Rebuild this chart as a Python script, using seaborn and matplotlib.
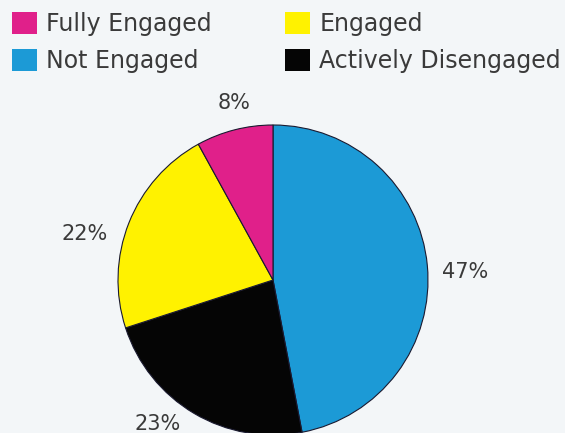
import matplotlib
matplotlib.use("Agg")
import numpy as np
import matplotlib.pyplot as plt
from matplotlib.patches import Patch
import seaborn as sns

categories = ["Not Engaged", "Actively Disengaged", "Engaged", "Fully Engaged"]
shares = [47, 23, 22, 8]
colors = ["#1c9ad6", "#050505", "#fff200", "#e0208a"]
legend_columns = [["Fully Engaged", "Not Engaged"], ["Engaged", "Actively Disengaged"]]

# label placement around the pie: radius factor and angular nudge (degrees)
label_radius = [1.24, 1.19, 1.25, 1.17]
label_nudge = [-3, -8, 8, -2]

sns.set_style("white")
plt.rcParams["font.family"] = ["DejaVu Sans"]
bg = "#f3f6f8"
text_color = "#3a3a3a"

W, H = 565, 433
fig = plt.figure(figsize=(W / 100, H / 100), dpi=100, facecolor=bg)
ax = fig.add_axes([0, 0, 1, 1])
ax.set_facecolor(bg)

center = (273, H - 280)
radius = 155
wedges, _ = ax.pie(
    shares,
    colors=colors,
    startangle=90,
    counterclock=False,
    center=center,
    radius=radius,
    frame=True,
    wedgeprops=dict(edgecolor="#1a1a30", linewidth=0.8),
)
ax.set_xlim(0, W)
ax.set_ylim(0, H)
ax.set_aspect("equal")
ax.axis("off")

for w, v, rf, dn in zip(wedges, shares, label_radius, label_nudge):
    ang = np.deg2rad((w.theta1 + w.theta2) / 2 + dn)
    x = center[0] + rf * radius * np.cos(ang)
    y = center[1] + rf * radius * np.sin(ang)
    ax.text(x, y, f"{v}%", ha="center", va="center", fontsize=15, color=text_color)

color_of = dict(zip(categories, colors))
anchors = [(12 / W, 1 - 12 / H), (285 / W, 1 - 12 / H)]
for col, anchor in zip(legend_columns, anchors):
    handles = [Patch(facecolor=color_of[c], edgecolor="none", label=c) for c in col]
    leg = fig.legend(
        handles=handles,
        loc="upper left",
        bbox_to_anchor=anchor,
        frameon=False,
        fontsize=17,
        borderpad=0,
        borderaxespad=0,
        handlelength=1.05,
        handleheight=1.05,
        handletextpad=0.4,
        labelspacing=0.55,
        labelcolor=text_color,
    )

fig.savefig("out.png", dpi=100, facecolor=bg)
